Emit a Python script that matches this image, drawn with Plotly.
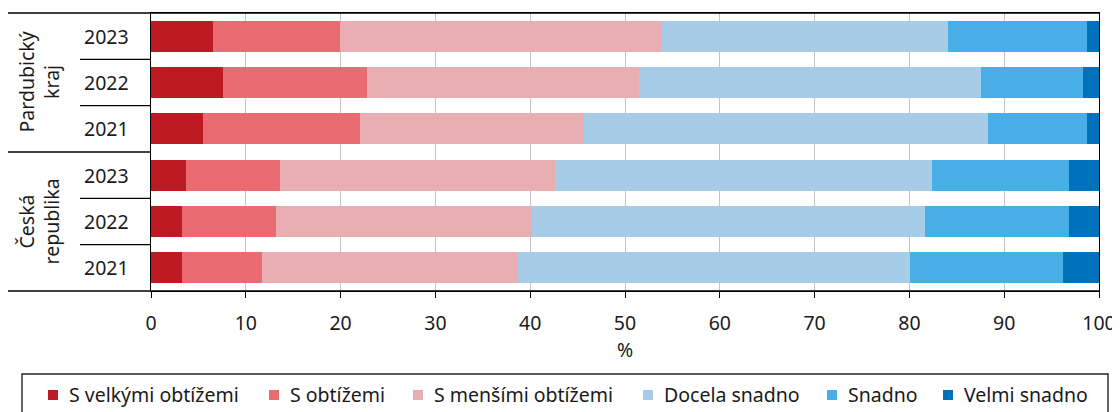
import plotly.graph_objects as go

groups = ["Česká<br>republika", "Pardubický<br>kraj"]
years = ["2021", "2022", "2023", "2021", "2022", "2023"]  # bottom to top
series_names = ["S velkými obtížemi", "S obtížemi", "S menšími obtížemi",
                "Docela snadno", "Snadno", "Velmi snadno"]
colors = ["#BE1A22", "#EB6B72", "#E8AEB1", "#A6CCE7", "#47AEE6", "#0071BC"]

# rows bottom to top: CR2021, CR2022, CR2023, PK2021, PK2022, PK2023
s_velkymi = [3.3, 3.3, 3.7, 5.5, 7.6, 6.5]
s_obtizemi = [8.4, 9.9, 9.9, 16.5, 15.2, 13.4]
s_mensimi = [27.0, 27.0, 29.0, 23.7, 28.7, 34.0]
docela = [41.4, 41.4, 39.8, 42.6, 36.0, 30.2]
snadno = [16.1, 15.2, 14.4, 10.4, 10.8, 14.6]
velmi = [3.8, 3.2, 3.2, 1.3, 1.7, 1.3]
values = [s_velkymi, s_obtizemi, s_mensimi, docela, snadno, velmi]

rows = list(range(len(years)))
FONT = "Noto Sans"
FS = 19.5
TXT = "#1a1a1a"

fig = go.Figure()
for name, vals, col in zip(series_names, values, colors):
    fig.add_trace(go.Bar(y=rows, x=vals, orientation="h", name=name, showlegend=False,
                         marker=dict(color=col, line=dict(width=0))))

# the page body adds an 8 px offset; layout is expressed in window pixels minus that offset
OFF = 8
W, H = 1120, 412
PL, PR, PT, PB = 151, 1099, 13, 291  # plot box in window pixels
L, T = PL - OFF, PT - OFF
R, B = W - (PR - OFF), H - (PB - OFF)
pw = PR - PL
ph = PB - PT

def px(xpix):
    return (xpix - PL) / pw

def py(ypix):
    return (PB - ypix) / ph

LW = 1.4
shapes = []
# top border and bottom line extended to the left
for yv in [0, 1]:
    shapes.append(dict(type="line", xref="paper", yref="paper", x0=px(8), x1=1,
                       y0=yv, y1=yv, line=dict(color="black", width=LW)))
# group separator
shapes.append(dict(type="line", xref="paper", yref="y", x0=px(8), x1=0,
                   y0=2.5, y1=2.5, line=dict(color="black", width=LW)))
# year separators
for yv in [0.5, 1.5, 3.5, 4.5]:
    shapes.append(dict(type="line", xref="paper", yref="y", x0=px(80), x1=0,
                       y0=yv, y1=yv, line=dict(color="black", width=LW)))

annotations = []
for i, yr in enumerate(years):
    annotations.append(dict(x=px(106), y=i, xref="paper", yref="y", text=yr,
                            showarrow=False, xanchor="center", yanchor="middle",
                            font=dict(family=FONT, size=FS, color=TXT)))
for gy, gname in zip([1, 4], groups):
    annotations.append(dict(x=px(38), y=gy, xref="paper", yref="y", text=gname,
                            textangle=-90, showarrow=False, xanchor="center", yanchor="middle",
                            font=dict(family=FONT, size=FS, color=TXT)))

# manual legend (box, swatches, labels)
shapes.append(dict(type="rect", xref="paper", yref="paper", x0=px(22), x1=px(1108),
                   y0=py(374), y1=py(425), line=dict(color="#222", width=LW),
                   fillcolor="rgba(0,0,0,0)"))
swatch_left = [48, 269, 413, 643, 827, 943]
legend_y = 395
for name, col, sx in zip(series_names, colors, swatch_left):
    shapes.append(dict(type="rect", xref="paper", yref="paper", x0=px(sx), x1=px(sx + 10),
                       y0=py(legend_y + 5), y1=py(legend_y - 5),
                       fillcolor=col, line=dict(width=0)))
    annotations.append(dict(x=px(sx + 19), y=py(legend_y), xref="paper", yref="paper",
                            text=name, showarrow=False, xanchor="left", yanchor="middle",
                            font=dict(family=FONT, size=FS, color=TXT)))

fig.update_layout(
    width=W, height=H,
    margin=dict(l=L, r=R, t=T, b=B, pad=0, autoexpand=False),
    barmode="stack", bargap=0.33,
    plot_bgcolor="white", paper_bgcolor="white",
    font=dict(family=FONT, size=FS, color=TXT),
    xaxis=dict(range=[0, 100], dtick=10, tick0=0, showgrid=True, gridcolor="#C4C4C4",
               gridwidth=1, zeroline=False, showline=True, linecolor="black", linewidth=LW,
               mirror=True, ticks="outside", ticklen=6, tickcolor="black", tickwidth=1.2,
               ticklabelstandoff=8, automargin=False,
               title=dict(text="%", standoff=5, font=dict(size=FS)),
               tickfont=dict(size=FS)),
    yaxis=dict(range=[-0.5, 5.5], showticklabels=False, showgrid=False, zeroline=False,
               showline=True, linecolor="black", linewidth=LW, mirror=True, ticks="",
               automargin=False),
    shapes=shapes, annotations=annotations,
    showlegend=False,
)

fig.write_html("out.html")
